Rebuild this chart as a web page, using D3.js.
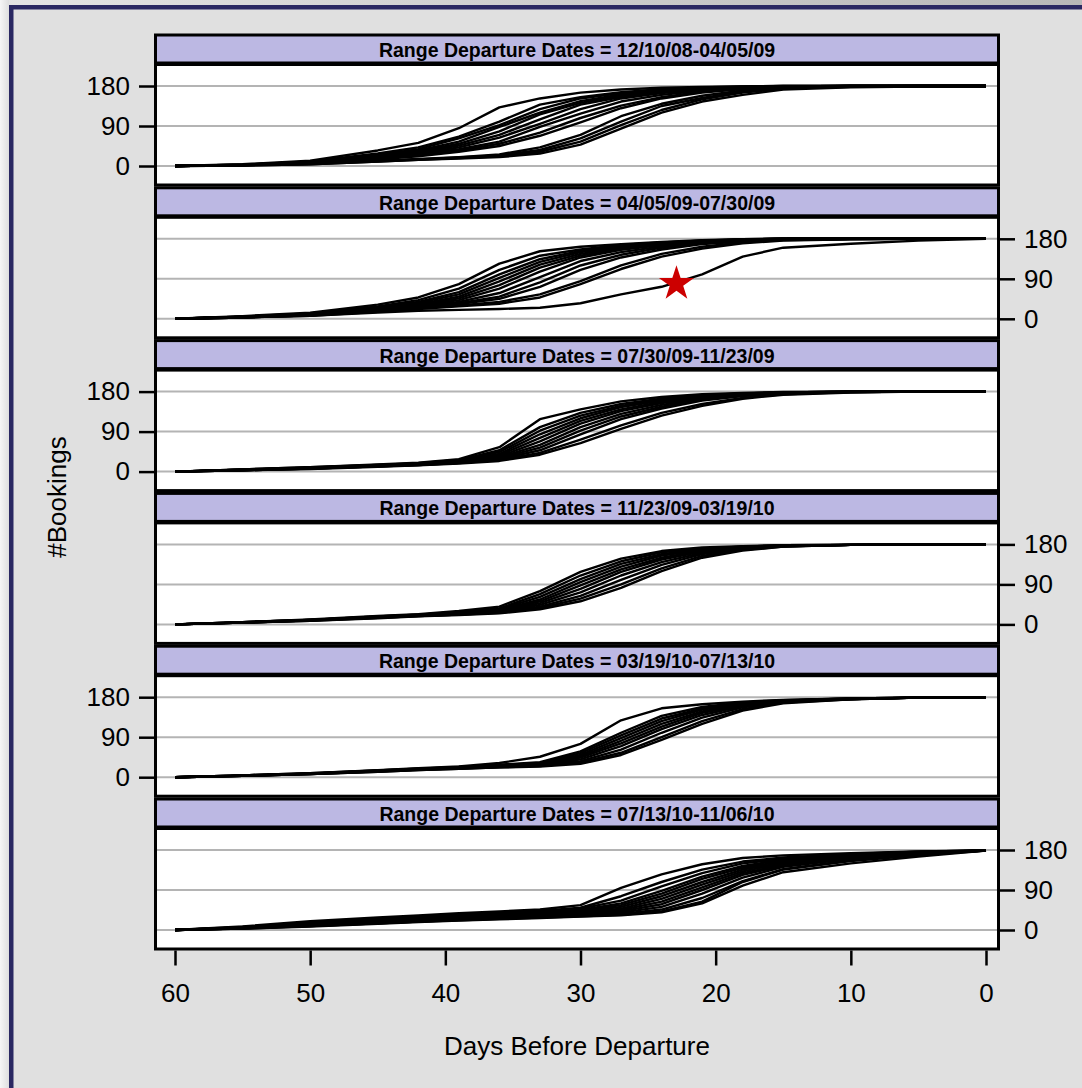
<!DOCTYPE html>
<html><head><meta charset="utf-8">
<script src="https://cdn.jsdelivr.net/npm/d3@7"></script>
<style>html,body{margin:0;padding:0;background:#e0e0e0;} svg{display:block}</style>
</head><body><svg id="c" width="1082" height="1088"></svg>
<script>
const DAYS = [60,55,50,45,42,39,36,33,30,27,24,21,18,15,10,5,0];
const PANEL_LABELS = [
  "Range Departure Dates = 12/10/08-04/05/09",
  "Range Departure Dates = 04/05/09-07/30/09",
  "Range Departure Dates = 07/30/09-11/23/09",
  "Range Departure Dates = 11/23/09-03/19/10",
  "Range Departure Dates = 03/19/10-07/13/10",
  "Range Departure Dates = 07/13/10-11/06/10"
];
const Y_TICKS = [0, 90, 180];
const X_TICKS = [60, 50, 40, 30, 20, 10, 0];
const X_TITLE = "Days Before Departure";
const Y_TITLE = "#Bookings";

const P1 = [
  [0,4,12,35,52,85,132,152,165,172,176,178,179,180,180,180,180],
  [0,3,10,28,42,66,100,138,155,166,173,177,179,180,180,180,180],
  [0,3,9,25,38,62,92,128,152,164,172,176,178,180,180,180,180],
  [0,3,9,24,35,55,88,120,146,161,170,175,178,179,180,180,180],
  [0,2,8,22,33,50,78,116,142,158,169,174,177,179,180,180,180],
  [0,2,8,20,30,46,70,105,138,155,167,173,177,179,180,180,180],
  [0,2,7,18,28,42,64,95,128,152,164,172,176,179,180,180,180],
  [0,2,7,18,26,38,55,88,118,145,160,170,175,178,180,180,180],
  [0,2,6,16,24,35,50,75,108,136,155,167,174,178,180,180,180],
  [0,2,6,15,22,32,45,68,98,130,152,165,173,177,180,180,180],
  [0,2,5,12,16,20,26,42,70,112,140,158,170,176,179,180,180],
  [0,2,5,11,15,19,24,36,62,100,135,153,167,175,179,180,180],
  [0,1,4,10,14,18,22,32,55,92,126,150,165,174,178,180,180],
  [0,1,4,10,14,17,20,28,48,84,120,145,160,172,177,179,180]
];
const P2 = [
  [0,6,14,32,48,78,124,152,162,168,173,177,179,180,180,180,180],
  [0,5,12,28,42,68,110,142,156,166,172,176,179,180,180,180,180],
  [0,5,11,26,38,60,100,134,153,164,171,176,178,180,180,180,180],
  [0,5,11,25,36,55,92,128,150,162,170,175,178,180,180,180,180],
  [0,4,10,23,33,50,84,122,146,160,169,175,178,180,180,180,180],
  [0,4,10,22,32,46,76,115,142,158,168,174,178,180,180,180,180],
  [0,4,9,21,30,42,68,106,138,155,166,173,177,179,180,180,180],
  [0,4,9,20,28,38,58,94,130,150,163,172,176,179,180,180,180],
  [0,3,8,19,27,35,50,82,120,144,160,170,175,179,180,180,180],
  [0,3,8,18,26,33,45,72,110,138,156,168,174,178,180,180,180],
  [0,3,8,17,24,30,38,55,85,120,146,162,172,177,179,180,180],
  [0,3,7,16,22,28,34,48,78,112,140,158,170,176,179,180,180],
  [0,3,7,14,18,20,22,25,35,55,72,100,140,160,169,176,180]
];
const P3 = [
  [0,5,10,16,20,28,55,118,140,158,168,174,177,179,180,180,180],
  [0,5,10,15,19,26,48,100,132,152,164,172,176,178,180,180,180],
  [0,4,9,15,18,25,44,92,126,148,162,171,176,178,180,180,180],
  [0,4,9,14,18,24,40,84,120,145,160,170,175,178,180,180,180],
  [0,4,8,14,17,23,37,76,114,140,157,168,174,178,180,180,180],
  [0,4,8,13,17,22,34,68,108,136,154,166,173,177,180,180,180],
  [0,3,8,13,16,21,32,60,100,130,150,164,172,177,180,180,180],
  [0,3,7,12,16,20,30,54,92,124,146,162,171,176,179,180,180],
  [0,3,7,12,15,20,28,48,84,118,142,160,170,176,179,180,180],
  [0,3,7,12,15,19,26,42,72,104,132,152,166,174,179,180,180],
  [0,3,6,11,14,18,24,38,64,96,126,148,164,173,178,180,180]
];
const P4 = [
  [0,5,11,19,23,30,40,75,118,148,165,173,176,178,179,180,180],
  [0,5,10,18,22,28,36,68,110,142,162,171,175,178,179,180,180],
  [0,5,10,18,22,27,34,62,102,136,158,170,175,178,179,180,180],
  [0,5,10,17,21,26,32,56,95,130,155,168,174,177,179,180,180],
  [0,4,10,17,21,25,30,52,88,124,150,166,173,177,179,180,180],
  [0,4,9,16,20,24,29,48,80,118,146,164,172,177,179,180,180],
  [0,4,9,16,20,23,28,44,72,110,140,161,171,176,179,180,180],
  [0,4,9,15,19,22,27,40,64,100,134,158,170,176,179,180,180],
  [0,4,8,15,19,22,26,37,58,90,126,154,168,175,179,180,180],
  [0,4,8,14,18,21,25,34,52,82,120,150,166,175,179,180,180]
];
const P5 = [
  [0,4,9,16,20,24,32,46,75,128,155,164,170,174,177,179,180],
  [0,4,9,15,19,23,28,34,58,100,138,158,168,173,177,179,180],
  [0,4,8,15,19,22,27,32,54,94,132,154,166,172,177,179,180],
  [0,4,8,14,18,22,26,30,50,88,126,152,165,172,177,179,180],
  [0,3,8,14,18,21,25,29,47,82,120,148,164,172,176,179,180],
  [0,3,8,14,18,21,25,28,44,76,114,145,162,171,176,179,180],
  [0,3,7,13,17,20,24,27,40,70,108,140,160,170,176,179,180],
  [0,3,7,13,17,20,23,26,36,62,100,134,157,169,176,179,180],
  [0,3,7,12,16,19,22,25,33,55,90,126,153,168,175,179,180],
  [0,3,7,12,16,19,22,24,30,50,84,120,150,166,175,179,180]
];
const P6 = [
  [0,8,20,28,33,38,42,46,56,95,125,148,162,168,173,177,179],
  [0,7,17,25,30,35,39,43,50,76,108,136,154,163,171,176,179],
  [0,6,15,23,28,33,37,41,48,66,98,128,150,160,170,176,179],
  [0,6,14,22,27,31,35,39,45,60,88,120,144,158,168,175,179],
  [0,5,13,21,26,30,33,37,43,56,82,115,140,155,167,174,179],
  [0,5,12,20,24,28,31,35,41,52,76,108,136,152,166,174,179],
  [0,5,12,19,23,27,30,33,39,48,70,102,132,150,164,173,179],
  [0,4,11,18,22,26,29,32,37,45,64,96,128,147,163,173,179],
  [0,4,10,17,21,25,28,31,35,42,58,90,124,145,162,172,179],
  [0,4,10,16,20,24,27,30,33,39,52,82,118,142,160,172,179],
  [0,4,9,15,19,23,26,29,32,36,46,72,110,137,157,171,179],
  [0,3,9,15,19,22,25,28,31,34,42,64,108,136,155,168,179],
  [0,3,8,14,18,21,24,27,30,33,40,60,100,130,150,165,179]
];
const PANELS = [P1, P2, P3, P4, P5, P6];
const STAR_PANEL = 1, STAR_DAY = 22.9, STAR_VALUE = 79;

const FONT = "'Liberation Sans', Arial, Helvetica, sans-serif";
const svg = d3.select("#c");
const W = 1082, H = 1088;

const defs = svg.append("defs");
const gl = defs.append("linearGradient").attr("id","gl").attr("x1","0").attr("x2","1").attr("y1","0").attr("y2","0");
gl.append("stop").attr("offset","0").attr("stop-color","#f6f6f6");
gl.append("stop").attr("offset","1").attr("stop-color","#dedede");
const gt = defs.append("linearGradient").attr("id","gt").attr("x1","0").attr("x2","1").attr("y1","0").attr("y2","0");
gt.append("stop").attr("offset","0").attr("stop-color","#e4e4e4");
gt.append("stop").attr("offset","1").attr("stop-color","#b8b8b8");
svg.append("rect").attr("width",W).attr("height",H).attr("fill","#e0e0e0");
svg.append("rect").attr("x",0).attr("y",0).attr("width",W).attr("height",5).attr("fill","url(#gt)");
svg.append("rect").attr("x",0).attr("y",0).attr("width",9).attr("height",H).attr("fill","url(#gl)");
svg.append("rect").attr("x",9).attr("y",5).attr("width",W-9).attr("height",4.5).attr("fill","#2a2862");
svg.append("rect").attr("x",9).attr("y",5).attr("width",4.5).attr("height",H-5).attr("fill","#2a2862");

const left = 155.5, right = 998.5;
const top0 = 35, pitch = 152.8;
const x = d3.scaleLinear().domain([60, 0]).range([175, 986]);

PANELS.forEach((series, i) => {
  const cy = top0 + i * pitch;
  const y = d3.scaleLinear().domain([0, 180]).range([cy + 131, cy + 51]);
  const g = svg.append("g");
  const pTop = cy + 29.5, pBot = cy + 150;
  g.append("rect").attr("x", left).attr("y", pTop).attr("width", right - left).attr("height", pBot - pTop).attr("fill", "#fff");
  g.selectAll("line.grid").data(Y_TICKS).join("line").attr("class","grid")
    .attr("x1", left).attr("x2", right).attr("y1", d => y(d)).attr("y2", d => y(d))
    .attr("stroke", "#b4b4b4").attr("stroke-width", 2);
  const clipId = "clip" + i;
  defs.append("clipPath").attr("id", clipId).append("rect")
    .attr("x", left).attr("y", pTop).attr("width", right - left).attr("height", pBot - pTop);
  const line = d3.line().x((d, k) => x(DAYS[k])).y(d => y(d));
  g.append("g").attr("clip-path", `url(#${clipId})`).selectAll("path").data(series).join("path")
    .attr("d", line).attr("fill", "none").attr("stroke", "#000").attr("stroke-width", 2.4)
    .attr("stroke-linejoin", "round");
  if (i === STAR_PANEL) {
    const R = 18.5;
    g.append("path").attr("d", d3.symbol(d3.symbolStar, R * R / 0.8908130915292852)())
      .attr("transform", `translate(${x(STAR_DAY)},${y(STAR_VALUE)})`).attr("fill", "#cc0000");
  }
  g.append("rect").attr("x", left).attr("y", pTop).attr("width", right - left).attr("height", pBot - pTop)
    .attr("fill", "none").attr("stroke", "#000").attr("stroke-width", 3);
  g.append("rect").attr("x", left).attr("y", cy).attr("width", right - left).attr("height", 28)
    .attr("fill", "#bcb8e3").attr("stroke", "#000").attr("stroke-width", 3);
  g.append("text").attr("x", (left + right) / 2).attr("y", cy + 15).attr("text-anchor", "middle")
    .attr("dominant-baseline", "central").attr("font-family", FONT).attr("font-weight", "bold")
    .attr("font-size", 19.5).attr("fill", "#000").text(PANEL_LABELS[i]);
  const isLeft = i % 2 === 0;
  const ax = (isLeft ? d3.axisLeft(y) : d3.axisRight(y)).tickValues(Y_TICKS).tickSize(15).tickPadding(9).tickFormat(d3.format("d"));
  const ag = svg.append("g").attr("transform", `translate(${isLeft ? left - 1.5 : right + 1.5},0)`).call(ax);
  ag.select(".domain").remove();
  ag.selectAll(".tick line").attr("stroke", "#000").attr("stroke-width", 2.5);
  ag.selectAll(".tick text").attr("font-family", FONT).attr("font-size", 26).attr("fill", "#000");
});

const bottomY = top0 + 5 * pitch + 150 + 1.5;
const xa = d3.axisBottom(x).tickValues(X_TICKS).tickSize(15).tickPadding(18).tickFormat(d3.format("d"));
const xg = svg.append("g").attr("transform", `translate(0,${bottomY})`).call(xa);
xg.select(".domain").remove();
xg.selectAll(".tick line").attr("stroke", "#000").attr("stroke-width", 2.5);
xg.selectAll(".tick text").attr("font-family", FONT).attr("font-size", 26).attr("fill", "#000");

svg.append("text").attr("x", (left + right) / 2).attr("y", 1055).attr("text-anchor", "middle")
  .attr("font-family", FONT).attr("font-size", 26).attr("fill", "#000").text(X_TITLE);
svg.append("text").attr("transform", "translate(66,497) rotate(-90)").attr("text-anchor", "middle")
  .attr("font-family", FONT).attr("font-size", 26).attr("fill", "#000").text(Y_TITLE);
</script>
</body></html>
